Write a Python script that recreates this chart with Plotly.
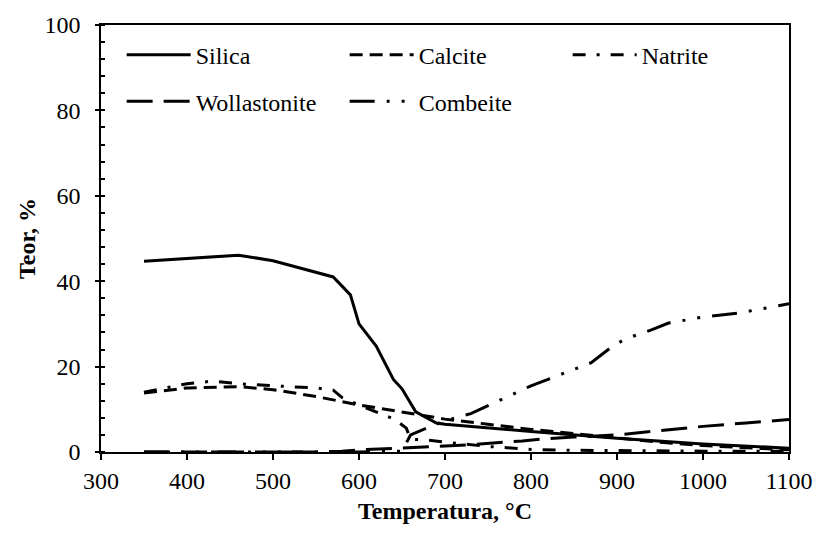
import plotly.graph_objects as go

# ---- data ----
t_silica = [350, 460, 500, 570, 590, 600, 620, 640, 650, 666, 690, 700, 800, 900, 1000, 1100]
silica = [44.7, 46.1, 44.8, 41.0, 36.8, 30.0, 24.8, 17.0, 14.8, 9.4, 6.8, 6.5, 4.8, 3.2, 1.9, 0.9]

t_calcite = [350, 400, 460, 500, 550, 600, 640, 700, 750, 800, 900, 950, 1000, 1100]
calcite = [13.8, 15.0, 15.3, 14.6, 13.0, 11.0, 9.7, 7.7, 6.5, 5.3, 3.3, 2.3, 1.5, 0.5]

t_natrite = [350, 400, 430, 460, 500, 550, 570, 580, 600, 625, 641, 655, 660, 680, 700, 750, 800, 850, 900, 1000, 1100]
natrite = [14.0, 16.0, 16.6, 16.0, 15.5, 15.0, 14.5, 12.8, 11.0, 9.0, 7.7, 5.6, 3.0, 2.8, 2.3, 1.3, 0.6, 0.4, 0.3, 0.2, 0.2]

t_wollastonite = [350, 550, 580, 600, 650, 680, 700, 730, 790, 810, 850, 870, 900, 950, 1000, 1050, 1100]
wollastonite = [0.0, 0.0, 0.2, 0.5, 0.9, 1.2, 1.5, 1.7, 2.6, 3.0, 3.5, 3.7, 4.0, 5.0, 6.0, 6.8, 7.6]

t_combeite = [350, 600, 650, 660, 680, 700, 730, 755, 800, 870, 895, 910, 940, 960, 1000, 1040, 1100]
combeite = [0.0, 0.0, 0.2, 4.0, 5.7, 7.3, 9.0, 11.3, 15.5, 20.9, 24.8, 26.5, 28.6, 30.2, 31.6, 32.5, 34.7]

x_ticks = [300, 400, 500, 600, 700, 800, 900, 1000, 1100]
y_ticks = [0, 20, 40, 60, 80, 100]

FONT = "Liberation Serif, Times New Roman, serif"
FS = 24
LW = 3

fig = go.Figure()
series = [
    ("Silica", t_silica, silica, "solid", "legend"),
    ("Calcite", t_calcite, calcite, "13px,7px", "legend"),
    ("Natrite", t_natrite, natrite, "13px,11px,3px,11px", "legend"),
    ("Wollastonite", t_wollastonite, wollastonite, "26px,11px", "legend2"),
    ("Combeite", t_combeite, combeite, "25px,12px,3px,12px,3px,12px", "legend2"),
]
for name, xs, ys, dash, lg in series:
    fig.add_trace(go.Scatter(x=xs, y=ys, mode="lines", name=name,
                             line=dict(color="black", width=LW, dash=dash),
                             legend=lg))

# invisible trace on an overlay axis to get inward major ticks on y (cross ticks)
fig.add_trace(go.Scatter(x=[300], y=[0], yaxis="y2", mode="markers",
                         marker=dict(opacity=0), showlegend=False, hoverinfo="skip"))

legend_common = dict(orientation="h", font=dict(family=FONT, size=FS, color="black"),
                     bgcolor="rgba(0,0,0,0)", borderwidth=0, itemwidth=64,
                     entrywidth=144, entrywidthmode="pixels",
                     xanchor="left", yanchor="top", traceorder="normal")

fig.update_layout(
    width=830, height=534,
    margin=dict(l=101, r=41, t=19, b=82),
    paper_bgcolor="white", plot_bgcolor="white",
    font=dict(family=FONT, size=FS, color="black"),
    showlegend=True,
    legend=dict(x=0.03, y=0.982, **legend_common),
    legend2=dict(x=0.03, y=0.873, **legend_common),
    xaxis=dict(range=[300, 1100], tickvals=x_ticks, ticktext=[str(v) for v in x_ticks],
               ticks="outside", ticklen=6, tickwidth=1.5, tickcolor="black",
               showline=True, linecolor="black", linewidth=1.5, mirror=True,
               showgrid=False, zeroline=False,
               tickfont=dict(family=FONT, size=FS),
               title=dict(text="<b>Temperatura, °C</b>", font=dict(family=FONT, size=FS), standoff=10)),
    yaxis=dict(range=[0, 100], tickvals=y_ticks, ticktext=[str(v) for v in y_ticks],
               ticks="outside", ticklen=4, tickwidth=1.5, tickcolor="black",
               ticklabelstandoff=10,
               minor=dict(dtick=4, ticks="inside", ticklen=4, tickwidth=1.5, tickcolor="black"),
               showline=True, linecolor="black", linewidth=1.5, mirror=True,
               showgrid=False, zeroline=False,
               tickfont=dict(family=FONT, size=FS),
               title=dict(text="<b>Teor, %</b>", font=dict(family=FONT, size=FS), standoff=2)),
    yaxis2=dict(range=[0, 100], overlaying="y", side="left", tickvals=y_ticks,
                showticklabels=False, ticks="inside", ticklen=4, tickwidth=1.5,
                tickcolor="black", showgrid=False, zeroline=False, showline=False),
)

fig.write_html("out.html")
